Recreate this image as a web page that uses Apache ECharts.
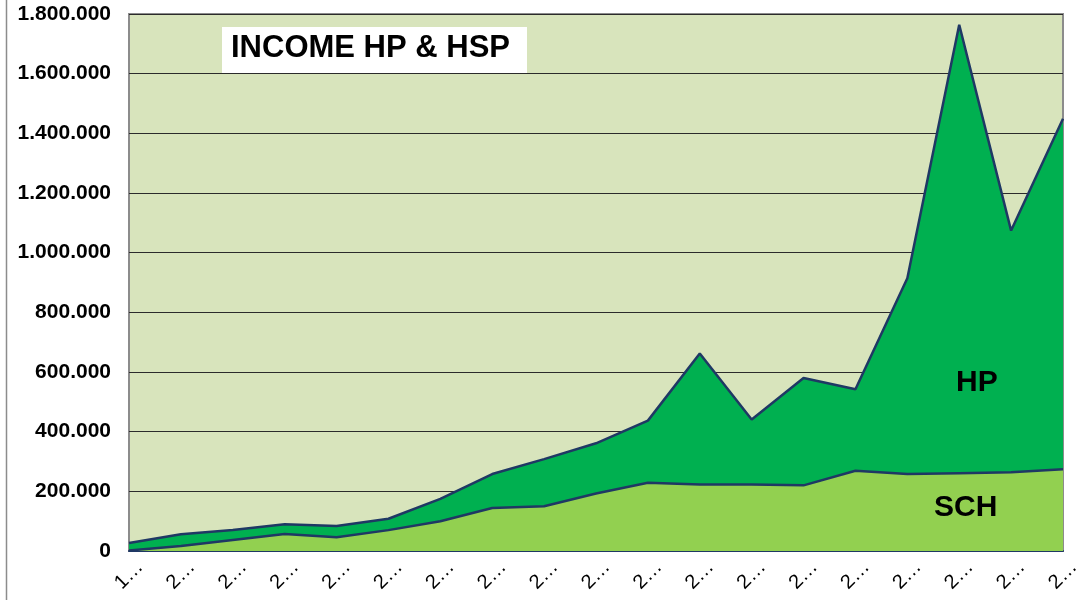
<!DOCTYPE html>
<html>
<head>
<meta charset="utf-8">
<script src="https://cdn.jsdelivr.net/npm/echarts@6/dist/echarts.min.js"></script>
<style>
  html, body { margin: 0; padding: 0; background: #fff; }
  #chart { width: 1084px; height: 600px; }
</style>
</head>
<body>
<div id="chart"></div>
<script>
// x labels are shown truncated in the source picture
const categories = ["1…", "2…", "2…", "2…", "2…", "2…", "2…", "2…", "2…", "2…",
  "2…", "2…", "2…", "2…", "2…", "2…", "2…", "2…", "2…"];
// SCH (bottom layer)
const sch = [2000, 17000, 37000, 57000, 46000, 70000, 100000, 144000, 150000, 193000,
  229000, 223000, 223000, 220000, 269000, 258000, 261000, 264000, 274000];
// HP stacked on top of SCH (total minus SCH)
const hp = [25000, 39000, 33000, 33000, 38000, 38000, 75000, 114000, 158000, 168000,
  208000, 439000, 218000, 360000, 273000, 656000, 1503000, 810000, 1175000];

const fmt = v => String(v).replace(/\B(?=(\d{3})+(?!\d))/g, ".");

const chart = echarts.init(document.getElementById("chart"));
const option = {
  animation: false,
  textStyle: { fontFamily: "Liberation Sans, Arial, sans-serif" },
  grid: {
    left: 129, right: 21, top: 14, bottom: 49,
    show: true,
    backgroundColor: "#D8E4BC",
    borderColor: "#8c8c8c",
    borderWidth: 2
  },
  xAxis: {
    type: "category",
    data: categories,
    boundaryGap: false,
    axisLine: { lineStyle: { color: "#1F3864", width: 2 } },
    axisTick: { show: false },
    axisLabel: {
      rotate: 45,
      color: "#000",
      fontSize: 20,
      margin: 24,
      align: "center",
      verticalAlign: "middle",
      interval: 0
    }
  },
  yAxis: {
    type: "value",
    min: 0,
    max: 1800000,
    interval: 200000,
    axisLine: { show: false },
    axisTick: { show: false },
    splitLine: { lineStyle: { color: "#2b2b2b", width: 1 } },
    axisLabel: {
      color: "#000",
      fontSize: 21,
      fontWeight: "bold",
      margin: 18,
      formatter: v => fmt(v)
    }
  },
  series: [
    {
      name: "SCH",
      type: "line",
      stack: "total",
      data: sch,
      symbol: "none",
      lineStyle: { color: "#1F3864", width: 2.5 },
      areaStyle: { color: "#92D050", opacity: 1 }
    },
    {
      name: "HP",
      type: "line",
      stack: "total",
      data: hp,
      symbol: "none",
      lineStyle: { color: "#1F3864", width: 2.5 },
      areaStyle: { color: "#00B050", opacity: 1 }
    }
  ],
  graphic: [
    {
      type: "line",
      shape: { x1: 6.5, y1: 0, x2: 6.5, y2: 600 },
      style: { stroke: "#8c8c8c", lineWidth: 1.5 }
    },
    {
      type: "rect",
      shape: { x: 222, y: 27, width: 305, height: 46 },
      style: { fill: "#fff" },
      z: 10
    },
    {
      type: "text",
      left: 231, top: 33,
      style: { text: "INCOME HP & HSP", fontSize: 31, fontWeight: "bold", fill: "#000",
        fontFamily: "Liberation Sans, Arial, sans-serif" },
      z: 11
    },
    {
      type: "text",
      left: 956, top: 368,
      style: { text: "HP", fontSize: 30, fontWeight: "bold", fill: "#000",
        fontFamily: "Liberation Sans, Arial, sans-serif" },
      z: 11
    },
    {
      type: "text",
      left: 934, top: 493,
      style: { text: "SCH", fontSize: 30, fontWeight: "bold", fill: "#000",
        fontFamily: "Liberation Sans, Arial, sans-serif" },
      z: 11
    }
  ]
};
chart.setOption(option);
window.addEventListener("resize", () => {
  chart.resize();
});
</script>
</body>
</html>
